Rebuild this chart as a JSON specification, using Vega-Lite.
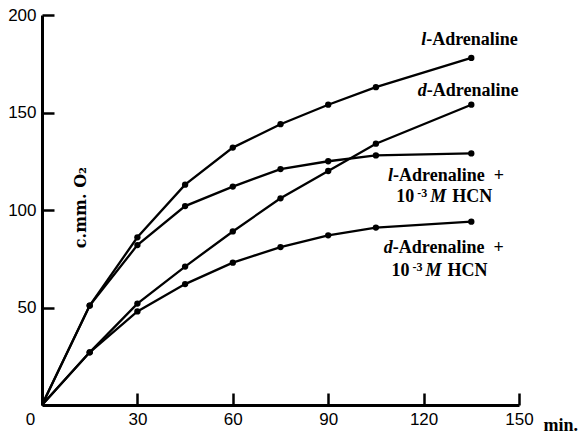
{
  "$schema": "https://vega.github.io/schema/vega-lite/v6.json",
  "width": 477,
  "height": 390,
  "autosize": "none",
  "padding": {"left": 42, "top": 15, "right": 67, "bottom": 28},
  "background": "white",
  "config": {"view": {"stroke": null}, "font": "Liberation Serif"},
  "datasets": {
    "uptake": [
      {"series": "l-Adrenaline", "t": 0, "o2": 0},
      {"series": "l-Adrenaline", "t": 15, "o2": 51},
      {"series": "l-Adrenaline", "t": 30, "o2": 86},
      {"series": "l-Adrenaline", "t": 45, "o2": 113},
      {"series": "l-Adrenaline", "t": 60, "o2": 132},
      {"series": "l-Adrenaline", "t": 75, "o2": 144},
      {"series": "l-Adrenaline", "t": 90, "o2": 154},
      {"series": "l-Adrenaline", "t": 105, "o2": 163},
      {"series": "l-Adrenaline", "t": 135, "o2": 178},
      {"series": "d-Adrenaline", "t": 0, "o2": 0},
      {"series": "d-Adrenaline", "t": 15, "o2": 27},
      {"series": "d-Adrenaline", "t": 30, "o2": 52},
      {"series": "d-Adrenaline", "t": 45, "o2": 71},
      {"series": "d-Adrenaline", "t": 60, "o2": 89},
      {"series": "d-Adrenaline", "t": 75, "o2": 106},
      {"series": "d-Adrenaline", "t": 90, "o2": 120},
      {"series": "d-Adrenaline", "t": 105, "o2": 134},
      {"series": "d-Adrenaline", "t": 135, "o2": 154},
      {"series": "l-Adrenaline + HCN", "t": 0, "o2": 0},
      {"series": "l-Adrenaline + HCN", "t": 15, "o2": 51},
      {"series": "l-Adrenaline + HCN", "t": 30, "o2": 82},
      {"series": "l-Adrenaline + HCN", "t": 45, "o2": 102},
      {"series": "l-Adrenaline + HCN", "t": 60, "o2": 112},
      {"series": "l-Adrenaline + HCN", "t": 75, "o2": 121},
      {"series": "l-Adrenaline + HCN", "t": 90, "o2": 125},
      {"series": "l-Adrenaline + HCN", "t": 105, "o2": 128},
      {"series": "l-Adrenaline + HCN", "t": 135, "o2": 129},
      {"series": "d-Adrenaline + HCN", "t": 0, "o2": 0},
      {"series": "d-Adrenaline + HCN", "t": 15, "o2": 27},
      {"series": "d-Adrenaline + HCN", "t": 30, "o2": 48},
      {"series": "d-Adrenaline + HCN", "t": 45, "o2": 62},
      {"series": "d-Adrenaline + HCN", "t": 60, "o2": 73},
      {"series": "d-Adrenaline + HCN", "t": 75, "o2": 81},
      {"series": "d-Adrenaline + HCN", "t": 90, "o2": 87},
      {"series": "d-Adrenaline + HCN", "t": 105, "o2": 91},
      {"series": "d-Adrenaline + HCN", "t": 135, "o2": 94}
    ],
    "names": [
      {"t": 120.8, "o2": 184.8, "lead": "l", "rest": "-Adrenaline"},
      {"t": 121, "o2": 158.7, "lead": "d", "rest": "-Adrenaline"},
      {"t": 110.4, "o2": 114.9, "lead": "l", "rest": "\u00a0-Adrenaline\u00a0\u00a0+"},
      {"t": 110.3, "o2": 78.2, "lead": "d", "rest": "-Adrenaline\u00a0\u00a0+"}
    ],
    "hcn": [
      {"t": 124.6, "o2": 104.2, "base": "10", "power": "-3", "unit": "M", "post": "HCN"},
      {"t": 123.1, "o2": 66.2, "base": "10", "power": "-3", "unit": "M", "post": "HCN"}
    ]
  },
  "layer": [
    {
      "data": {"name": "uptake"},
      "mark": {"type": "line", "color": "black", "strokeWidth": 2.3},
      "encoding": {
        "x": {
          "field": "t", "type": "quantitative",
          "scale": {"domain": [0, 150], "nice": false},
          "axis": {
            "values": [0, 30, 60, 90, 120, 150],
            "title": "min.",
            "grid": false,
            "domainColor": "black", "domainWidth": 3,
            "tickColor": "black", "tickWidth": 2.5, "tickSize": -12,
            "labelPadding": 18,
            "labelFont": "Liberation Sans", "labelFontSize": 17, "labelColor": "black",
            "labelOffset": {"condition": {"test": "datum.value === 0", "value": -12}, "value": 0},
            "labelFlush": false,
            "titleFont": "Liberation Serif", "titleFontWeight": "bold", "titleFontSize": 18,
            "titleColor": "black",
            "titleX": 501, "titleY": 25, "titleAlign": "left", "titleBaseline": "alphabetic",
            "titleAnchor": null
          }
        },
        "y": {
          "field": "o2", "type": "quantitative",
          "scale": {"domain": [0, 200], "nice": false},
          "axis": {
            "values": [50, 100, 150, 200],
            "title": "c.mm. O₂",
            "grid": false,
            "domainColor": "black", "domainWidth": 3,
            "tickColor": "black", "tickWidth": 2.5, "tickSize": -12,
            "labelPadding": 18,
            "labelFont": "Liberation Sans", "labelFontSize": 17, "labelColor": "black",
            "titleFont": "DejaVu Serif", "titleFontWeight": "bold", "titleFontSize": 16,
            "titleColor": "black", "titleAngle": -90,
            "titleX": 38, "titleY": 192, "titleAlign": "center", "titleBaseline": "middle",
            "titleAnchor": null
          }
        },
        "detail": {"field": "series"}
      }
    },
    {
      "data": {"name": "uptake"},
      "transform": [{"filter": "datum.t > 0"}],
      "mark": {"type": "circle", "color": "black", "size": 40, "opacity": 1},
      "encoding": {
        "x": {"field": "t", "type": "quantitative"},
        "y": {"field": "o2", "type": "quantitative"}
      }
    },
    {
      "data": {"name": "names"},
      "mark": {"type": "text", "align": "right", "baseline": "alphabetic", "font": "Liberation Serif", "fontStyle": "italic", "fontWeight": "bold", "fontSize": 18, "color": "black"},
      "encoding": {
        "x": {"field": "t", "type": "quantitative"},
        "y": {"field": "o2", "type": "quantitative"},
        "text": {"field": "lead"}
      }
    },
    {
      "data": {"name": "names"},
      "mark": {"type": "text", "align": "left", "baseline": "alphabetic", "font": "Liberation Serif", "fontWeight": "bold", "fontSize": 18, "color": "black"},
      "encoding": {
        "x": {"field": "t", "type": "quantitative"},
        "y": {"field": "o2", "type": "quantitative"},
        "text": {"field": "rest"}
      }
    },
    {
      "data": {"name": "hcn"},
      "mark": {"type": "text", "align": "right", "baseline": "alphabetic", "dx": -24, "font": "Liberation Serif", "fontWeight": "bold", "fontSize": 18, "color": "black"},
      "encoding": {
        "x": {"field": "t", "type": "quantitative"},
        "y": {"field": "o2", "type": "quantitative"},
        "text": {"field": "base"}
      }
    },
    {
      "data": {"name": "hcn"},
      "mark": {"type": "text", "align": "right", "baseline": "alphabetic", "dx": -11, "dy": -5, "font": "Liberation Serif", "fontWeight": "bold", "fontSize": 12, "color": "black"},
      "encoding": {
        "x": {"field": "t", "type": "quantitative"},
        "y": {"field": "o2", "type": "quantitative"},
        "text": {"field": "power"}
      }
    },
    {
      "data": {"name": "hcn"},
      "mark": {"type": "text", "align": "center", "baseline": "alphabetic", "font": "Liberation Serif", "fontStyle": "italic", "fontWeight": "bold", "fontSize": 18, "color": "black"},
      "encoding": {
        "x": {"field": "t", "type": "quantitative"},
        "y": {"field": "o2", "type": "quantitative"},
        "text": {"field": "unit"}
      }
    },
    {
      "data": {"name": "hcn"},
      "mark": {"type": "text", "align": "left", "baseline": "alphabetic", "dx": 14, "font": "Liberation Serif", "fontWeight": "bold", "fontSize": 18, "color": "black"},
      "encoding": {
        "x": {"field": "t", "type": "quantitative"},
        "y": {"field": "o2", "type": "quantitative"},
        "text": {"field": "post"}
      }
    }
  ]
}
